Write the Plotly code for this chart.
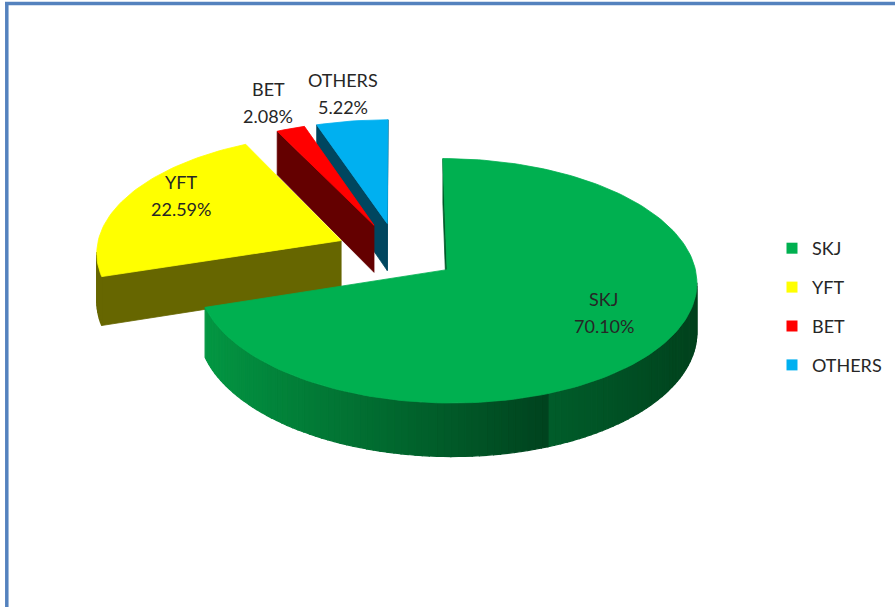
import numpy as np
import plotly.graph_objects as go

# ---------------- data ----------------
labels = ["SKJ", "YFT", "BET", "OTHERS"]
values = [70.10, 22.59, 2.08, 5.22]

# ---------------- style ----------------
top_colors = ["#00B050", "#FFFF00", "#FF0000", "#00B0F0"]
face_colors = ["#005A2A", "#666600", "#640000", "#00465F"]
text_color = "#262626"
FONT = "Lato, 'Open Sans', sans-serif"
FS = 18

# pseudo-3D geometry (pixel space)
CX, CY = 397.0, 252.0
RX, RY = 245.0, 118.0
K = 0.09          # perspective strength
DEPTH = 48.0
EXPLODE = 0.25
R_IN, R_OUT = 0.74, 1.30
LABEL_DY = -12.0


def proj(X, Y, h):
    f = 1.0 / (1.0 + K * Y)
    return CX + RX * X * f, CY + (-RY * Y + h) * f


def signed_area(xs, ys):
    xs = np.asarray(xs); ys = np.asarray(ys)
    return 0.5 * np.sum(xs * np.roll(ys, -1) - np.roll(xs, -1) * ys)


def lerp(c1, c2, t):
    return "rgb(%d,%d,%d)" % tuple(int(round(a + (b - a) * t)) for a, b in zip(c1, c2))


def skj_side_color(theta):
    u = (np.sin(theta) + 1) / 2
    if u < 0.68:
        return lerp((3, 154, 68), (0, 66, 30), u / 0.68)
    return lerp((0, 92, 42), (0, 64, 28), (u - 0.68) / 0.32)


total = sum(values)
fracs = [v / total for v in values]
starts = np.concatenate([[0], np.cumsum(fracs)[:-1]]) * 2 * np.pi
ends = np.cumsum(fracs) * 2 * np.pi

fig = go.Figure()


def poly(pts, color, lw=0.8):
    xs = [p[0] for p in pts] + [pts[0][0]]
    ys = [p[1] for p in pts] + [pts[0][1]]
    fig.add_trace(go.Scatter(
        x=xs, y=ys, mode="lines", fill="toself", fillcolor=color,
        line=dict(color=color, width=lw),
        hoverinfo="skip", showlegend=False))


slices = []
for i in range(len(values)):
    a, b = starts[i], ends[i]
    mid = (a + b) / 2
    ox, oy = EXPLODE * np.sin(mid), EXPLODE * np.cos(mid)
    slices.append((i, a, b, mid, ox, oy))

# far slices first
annotations = []
for (i, a, b, mid, ox, oy) in sorted(slices, key=lambda s: -s[5]):
    n = max(4, int(np.degrees(b - a) / 1.5))
    th = np.linspace(a, b, n + 1)

    def P(theta, h, r=1.0):
        return proj(ox + r * np.sin(theta), oy + r * np.cos(theta), h)

    vt = proj(ox, oy, 0); vb = proj(ox, oy, DEPTH)
    top = [vt] + [P(t, 0) for t in th]
    ref_sign = np.sign(signed_area([p[0] for p in top], [p[1] for p in top]))

    # cut faces
    faces = [
        [P(a, 0), vt, vb, P(a, DEPTH)],
        [vt, P(b, 0), P(b, DEPTH), vb],
    ]
    for fpts in faces:
        s = signed_area([p[0] for p in fpts], [p[1] for p in fpts])
        if np.sign(s) == ref_sign and abs(s) > 0.5:
            poly(fpts, face_colors[i])

    # outer side
    for t1, t2 in zip(th[:-1], th[1:]):
        q = [P(t2, 0), P(t1, 0), P(t1, DEPTH), P(t2, DEPTH)]
        s = signed_area([p[0] for p in q], [p[1] for p in q])
        if np.sign(s) == ref_sign:
            col = skj_side_color((t1 + t2) / 2) if i == 0 else face_colors[i]
            poly(q, col, lw=1.2)

    # top face
    poly(top, top_colors[i])

    # labels
    r = R_IN if fracs[i] > 0.10 else R_OUT
    lx, ly = P(mid, 0, r)
    ly += LABEL_DY if fracs[i] > 0.10 else 0
    for txt, dy in ((labels[i], -13.5), ("%.2f%%" % values[i], 13.5)):
        annotations.append(dict(x=lx, y=ly + dy, text=txt, showarrow=False,
                                xanchor="center", yanchor="middle",
                                font=dict(family=FONT, size=FS, color=text_color)))

# legend entries
for i in range(len(values)):
    fig.add_trace(go.Scatter(
        x=[None], y=[None], mode="markers", name=labels[i],
        legendgroup=labels[i],
        marker=dict(symbol="square", size=11, color=top_colors[i])))

border = "#5482BE"
shapes = [
    dict(type="line", x0=5, x1=895, y0=3.6, y1=3.6, line=dict(color=border, width=3.5)),
    dict(type="line", x0=6.8, x1=6.8, y0=2, y1=607, line=dict(color=border, width=3.5)),
]

fig.update_layout(
    width=895, height=607,
    margin=dict(l=0, r=0, t=0, b=0),
    paper_bgcolor="white", plot_bgcolor="white",
    xaxis=dict(range=[0, 895], visible=False, fixedrange=True),
    yaxis=dict(range=[607, 0], visible=False, fixedrange=True),
    shapes=shapes,
    annotations=annotations,
    showlegend=True,
    legend=dict(x=772 / 895, y=1 - 230 / 607, xanchor="left", yanchor="top",
                font=dict(family=FONT, size=FS, color=text_color),
                tracegroupgap=12.5, bgcolor="rgba(0,0,0,0)"),
)

fig.write_html("out.html")
